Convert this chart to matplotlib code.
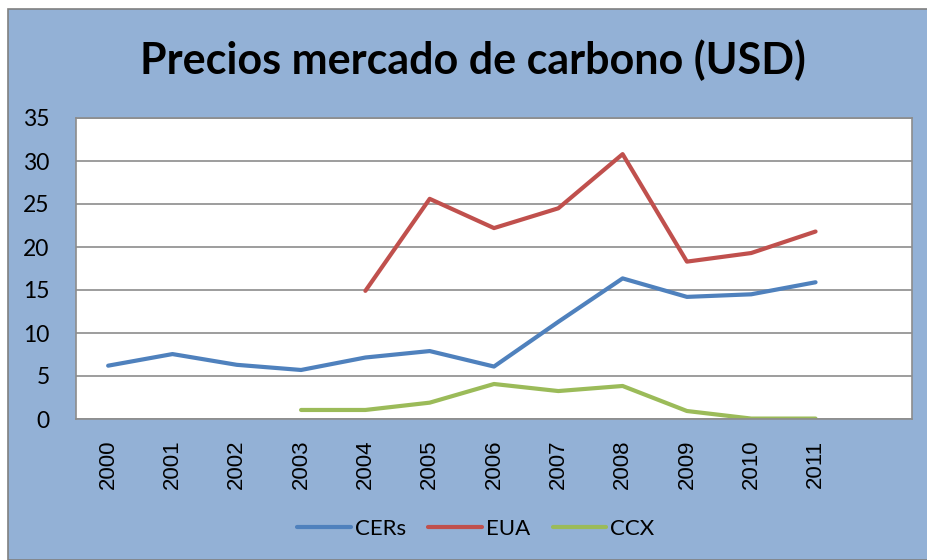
import numpy as np
import matplotlib.pyplot as plt
from matplotlib.patches import Rectangle

# ================= DATOS =================
ANIOS = ["2000", "2001", "2002", "2003", "2004", "2005",
         "2006", "2007", "2008", "2009", "2010", "2011", ""]
CERS = [6.2, 7.55, 6.3, 5.7, 7.15, 7.9, 6.1, 11.3, 16.35, 14.2, 14.5, 15.9, np.nan]
EUA = [np.nan, np.nan, np.nan, np.nan, 14.9, 25.6, 22.2, 24.5, 30.8, 18.3, 19.3, 21.8, np.nan]
CCX = [np.nan, np.nan, np.nan, 1.05, 1.05, 1.9, 4.07, 3.25, 3.84, 0.93, 0.05, 0.05, np.nan]

AZUL = "#4F81BD"
ROJO = "#C0504D"
VERDE = "#9BBB59"
FONDO = "#93B1D6"
# =========================================

plt.rcParams['font.family'] = ['Lato', 'DejaVu Sans']

fig = plt.figure(figsize=(9.27, 5.6), dpi=100)
fig.patch.set_facecolor("white")

# marco azul del gráfico (estilo Excel)
fig.patches.append(Rectangle((8 / 927, 0), 1, 1 - 9 / 560, transform=fig.transFigure,
                             facecolor=FONDO, edgecolor="#808080", linewidth=1.2, zorder=-1))

ax = fig.add_axes([76 / 927, 1 - 419 / 560, (912 - 76) / 927, (419 - 118) / 560])
ax.set_facecolor("white")

x = np.arange(len(ANIOS))
ax.plot(x, CERS, color=AZUL, linewidth=3, label="CERs", solid_capstyle="round")
ax.plot(x, EUA, color=ROJO, linewidth=3, label="EUA", solid_capstyle="round")
ax.plot(x, CCX, color=VERDE, linewidth=3, label="CCX", solid_capstyle="round")

ax.set_xlim(-0.5, len(ANIOS) - 0.5)
ax.set_ylim(0, 35)
ax.set_yticks(np.arange(0, 36, 5))
ax.set_xticks(x)
ax.set_xticklabels(ANIOS, rotation=90, fontsize=16, family="Liberation Sans")
ax.tick_params(axis="y", labelsize=16.5, length=0, pad=19)
ax.tick_params(axis="x", length=0, pad=15)
ax.grid(axis="y", color="#8C8C8C", linewidth=1.2)
ax.set_axisbelow(True)
for s in ax.spines.values():
    s.set_color("#8C8C8C")
    s.set_linewidth(1.2)

fig.text(473 / 927, 1 - 60 / 560, "Precios mercado de carbono (USD)",
         ha="center", va="center", fontsize=31, fontweight="bold")

fig.legend(loc="center", bbox_to_anchor=(476 / 927, 1 - 529 / 560), ncol=3, frameon=False,
           fontsize=16, handlelength=2.4, columnspacing=1.0, handletextpad=0.2)

plt.savefig("out.png", dpi=100, facecolor=fig.get_facecolor())
